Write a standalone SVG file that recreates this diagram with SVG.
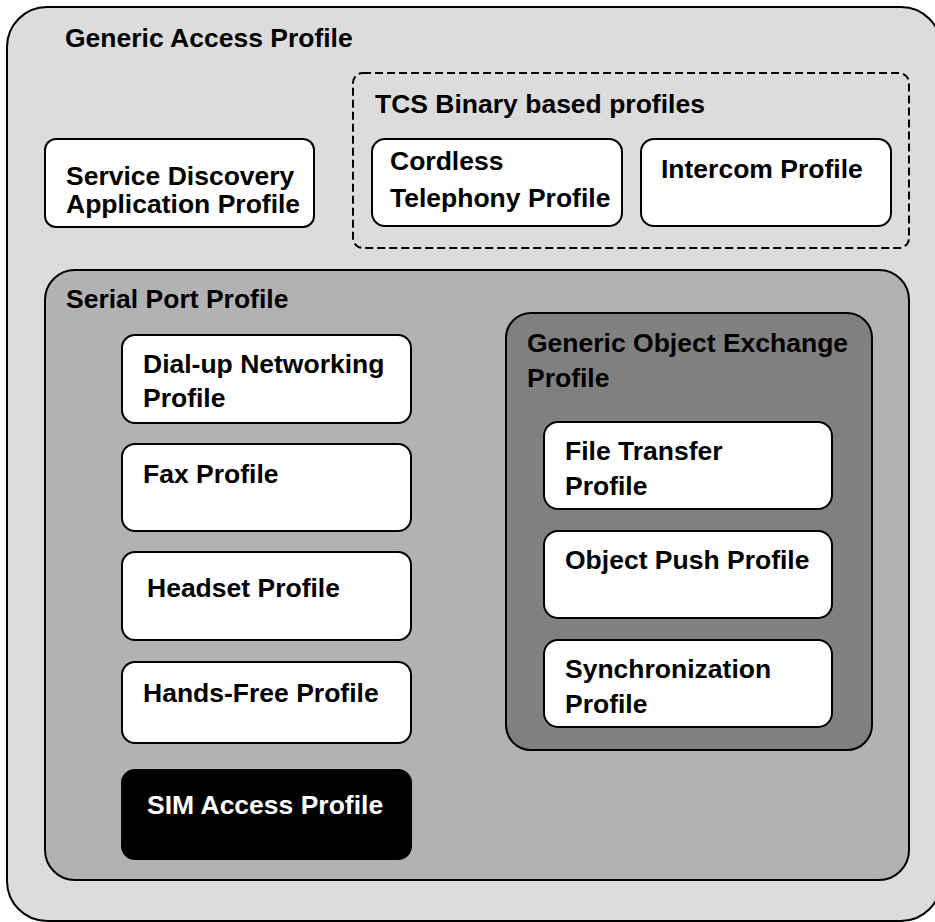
<svg xmlns="http://www.w3.org/2000/svg" width="935" height="922" viewBox="0 0 935 922">
<style>
text{font-family:"Liberation Sans",Arial,sans-serif;font-weight:bold;font-size:26.5px;fill:#000}
.box{fill:#fff;stroke:#000;stroke-width:2}
.w{fill:#fff}
</style>
<rect width="935" height="922" fill="#fff"/>
<g id="gap">
<rect x="7" y="7" width="934" height="914" rx="40" fill="#dcdcdc" stroke="#000" stroke-width="2"/>
<text x="65" y="47">Generic Access Profile</text>
</g>
<g id="sdap">
<rect class="box" x="45" y="139" width="269" height="88" rx="11"/>
<text x="66" y="185">Service Discovery</text>
<text x="66" y="213">Application Profile</text>
</g>
<g id="tcs">
<rect x="353" y="73" width="556" height="175" rx="10" fill="none" stroke="#000" stroke-width="2" stroke-dasharray="8,4"/>
<text x="375" y="113">TCS Binary based profiles</text>
</g>
<g id="ctp">
<rect class="box" x="372" y="139" width="250" height="87" rx="13"/>
<text x="390" y="170">Cordless</text>
<text x="390" y="207">Telephony Profile</text>
</g>
<g id="icp">
<rect class="box" x="641" y="139" width="250" height="87" rx="13"/>
<text x="661" y="178">Intercom Profile</text>
</g>
<g id="spp">
<rect x="45" y="270" width="864" height="610" rx="30" fill="#b2b2b2" stroke="#000" stroke-width="2"/>
<text x="66" y="308">Serial Port Profile</text>
</g>
<g id="dun">
<rect class="box" x="122" y="335" width="289" height="88" rx="13"/>
<text x="143" y="373">Dial-up Networking</text>
<text x="143" y="407">Profile</text>
</g>
<g id="fax">
<rect class="box" x="122" y="444" width="289" height="87" rx="13"/>
<text x="143" y="483">Fax Profile</text>
</g>
<g id="hsp">
<rect class="box" x="122" y="552" width="289" height="88" rx="13"/>
<text x="147" y="597">Headset Profile</text>
</g>
<g id="hfp">
<rect class="box" x="122" y="662" width="289" height="81" rx="13"/>
<text x="143" y="702">Hands-Free Profile</text>
</g>
<g id="sap">
<rect x="122" y="770" width="289" height="89" rx="13" fill="#000" stroke="#000" stroke-width="2"/>
<text class="w" x="147" y="814">SIM Access Profile</text>
</g>
<g id="goep">
<rect x="506" y="313" width="366" height="437" rx="25" fill="#808080" stroke="#000" stroke-width="2"/>
<text x="527" y="352">Generic Object Exchange</text>
<text x="527" y="387">Profile</text>
</g>
<g id="ftp">
<rect class="box" x="544" y="422" width="288" height="87" rx="14"/>
<text x="565" y="460">File Transfer</text>
<text x="565" y="495">Profile</text>
</g>
<g id="opp">
<rect class="box" x="544" y="531" width="288" height="87" rx="14"/>
<text x="565" y="569">Object Push Profile</text>
</g>
<g id="sync">
<rect class="box" x="544" y="640" width="288" height="87" rx="14"/>
<text x="565" y="678">Synchronization</text>
<text x="565" y="713">Profile</text>
</g>
<g id="connectors"></g>
</svg>
